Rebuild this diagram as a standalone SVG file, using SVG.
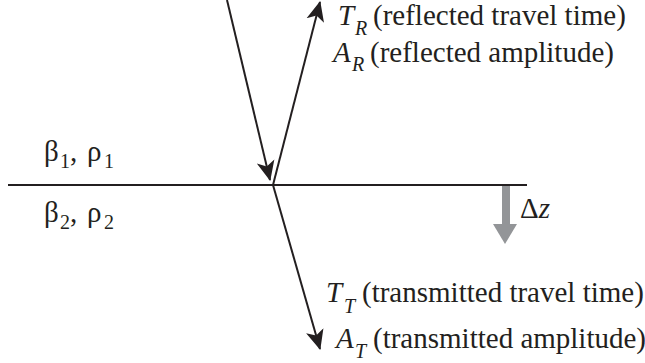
<svg xmlns="http://www.w3.org/2000/svg" width="645" height="363" viewBox="0 0 645 363">
<style>
text{font-family:"Liberation Serif","Times New Roman",serif;font-size:29px;fill:#231f20}
.it{font-style:italic}
.sub{font-size:20px;font-style:italic}
.num{font-size:20px}
.ray{stroke:#231f20;stroke-width:2;fill:none}
</style>
<defs>
<marker id="ahb" markerWidth="20" markerHeight="20" refX="19" refY="10" orient="auto" markerUnits="userSpaceOnUse" viewBox="0 0 20 20">
<path d="M0,1 L20,10 L0,19 L5,10 Z" fill="#231f20"/>
</marker>
</defs>
<g id="interface"><line x1="8" y1="185" x2="527" y2="185" stroke="#231f20" stroke-width="2"/></g>
<g id="connectors">
<line class="ray" x1="227" y1="0" x2="270" y2="180" marker-end="url(#ahb)"/>
<line class="ray" x1="273" y1="185" x2="320" y2="2" marker-end="url(#ahb)"/>
<line class="ray" x1="273" y1="185" x2="320" y2="349" marker-end="url(#ahb)"/>
<g id="dz-arrow">
<rect x="502" y="186" width="8" height="40" fill="#939598"/>
<path d="M493,224 L517,224 L505,244 Z" fill="#939598"/>
</g>
</g>
<g id="label-upper">
<text x="44" y="161">β</text><text class="num" x="60" y="168">1</text>
<text x="70" y="161">,</text>
<text x="87" y="161">ρ</text><text class="num" x="104" y="168">1</text>
</g>
<g id="label-lower">
<text x="44" y="222">β</text><text class="num" x="60" y="229">2</text>
<text x="70" y="222">,</text>
<text x="87" y="222">ρ</text><text class="num" x="104" y="229">2</text>
</g>
<g id="label-dz"><text x="520" y="218">Δ<tspan class="it">z</tspan></text></g>
<g id="label-TR">
<text class="it" x="338" y="25">T</text><text class="sub" x="355" y="35">R</text>
<text x="373" y="25">(reflected travel time)</text>
</g>
<g id="label-AR">
<text class="it" x="333" y="62">A</text><text class="sub" x="352" y="71">R</text>
<text x="370" y="62">(reflected amplitude)</text>
</g>
<g id="label-TT">
<text class="it" x="326" y="302">T</text><text class="sub" x="344" y="313">T</text>
<text x="362" y="302">(transmitted travel time)</text>
</g>
<g id="label-AT">
<text class="it" x="336" y="348">A</text><text class="sub" x="355" y="358">T</text>
<text x="373" y="348">(transmitted amplitude)</text>
</g>
</svg>
